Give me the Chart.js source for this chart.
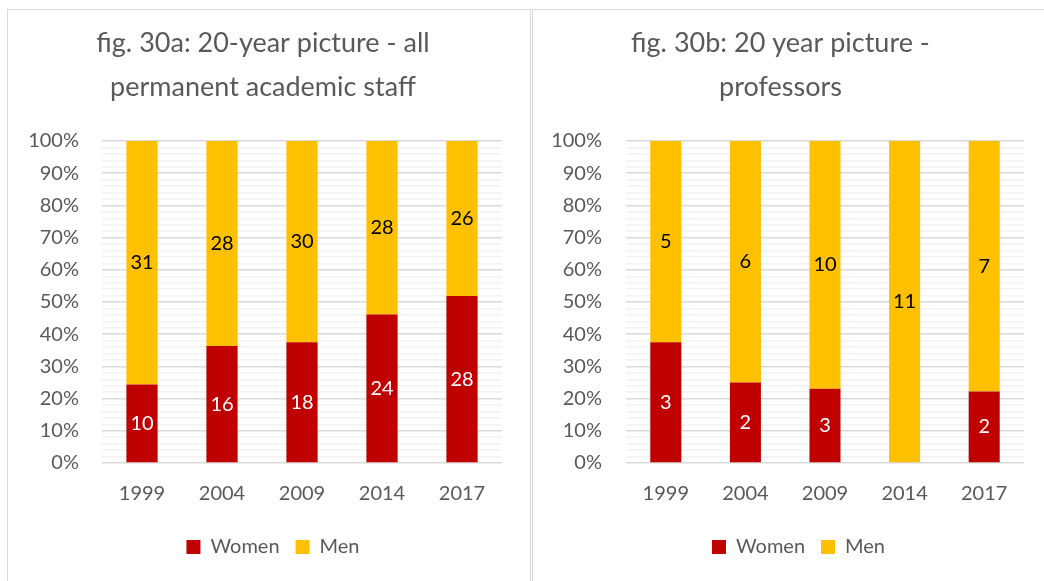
<!DOCTYPE html>
<html>
<head>
<meta charset="utf-8">
<script src="https://cdn.jsdelivr.net/npm/chart.js@4"></script>
<style>
    body { margin: 0; background: #fff; width: 1044px; height: 581px; overflow: hidden; position: relative; }
    .panel { position: absolute; top: 9px; height: 600px; box-sizing: border-box; border: 1px solid #d9d9d9; }
    #p1 { left: 7px; width: 524px; }
    #p2 { left: 532px; width: 600px; }
    canvas { display: block; }
</style>
</head>
<body>
<div class="panel" id="p1"><div style="width:522px;height:571px"><canvas id="chartA"></canvas></div></div>
<div class="panel" id="p2"><div style="width:511px;height:571px"><canvas id="chartB"></canvas></div></div>
<script>
const years = ['1999', '2004', '2009', '2014', '2017'];

// fig. 30a - all permanent academic staff (head counts)
const staffWomen = [10, 16, 18, 24, 28];
const staffMen = [31, 28, 30, 28, 26];

// fig. 30b - professors (head counts)
const profWomen = [3, 2, 3, 0, 2];
const profMen = [5, 6, 10, 11, 7];

const yTicks = [0, 10, 20, 30, 40, 50, 60, 70, 80, 90, 100];

const FONT = 'Lato, "Open Sans", sans-serif';
const TEXT = '#595959';

function pct(part, other) {
    return part.map((v, i) => v / (v + other[i]) * 100);
}

// draws the head counts in the middle of each segment
const countLabels = {
    id: 'countLabels',
    afterDatasetsDraw(chart) {
        const ctx = chart.ctx;
        ctx.save();
        ctx.font = '20px ' + FONT;
        ctx.textAlign = 'center';
        ctx.textBaseline = 'middle';
        chart.data.datasets.forEach((ds, di) => {
            const meta = chart.getDatasetMeta(di);
            meta.data.forEach((bar, i) => {
                const n = ds.counts[i];
                if (!n) return;
                ctx.fillStyle = ds.labelColor;
                ctx.fillText(n, bar.x, (bar.y + bar.base) / 2);
            });
        });
        ctx.restore();
    }
};

// nudge title and legend so they centre on the panel rather than the padded box
function shiftBoxes(titleDx, legendDx) {
    return {
        id: 'shiftBoxes',
        afterLayout(chart) {
            if (chart.titleBlock) {
                chart.titleBlock.left += titleDx;
                chart.titleBlock.right += titleDx;
            }
            if (chart.legend) {
                chart.legend.left += legendDx;
                chart.legend.right += legendDx;
            }
        }
    };
}

function makeChart(id, title, women, men, axisW, tickPad, padRight, titleDx, legendDx) {
    const ctx = document.getElementById(id).getContext('2d');
    return new Chart(ctx, {
        type: 'bar',
        data: {
            labels: years,
            datasets: [{
                label: 'Women',
                data: pct(women, men),
                counts: women,
                labelColor: '#ffffff',
                backgroundColor: '#C00000',
                barPercentage: 0.39,
                categoryPercentage: 1
            }, {
                label: 'Men',
                data: pct(men, women),
                counts: men,
                labelColor: '#000000',
                backgroundColor: '#FFC000',
                barPercentage: 0.39,
                categoryPercentage: 1
            }]
        },
        options: {
            responsive: true,
            maintainAspectRatio: false,
            animation: false,
            layout: { padding: { left: 0, right: padRight, top: 0, bottom: 14 } },
            plugins: {
                title: {
                    display: true,
                    text: title,
                    color: TEXT,
                    font: { family: FONT, size: 27, weight: 'normal', lineHeight: 1.63 },
                    padding: { top: 11, bottom: 32 }
                },
                legend: {
                    position: 'bottom',
                    labels: {
                        color: TEXT,
                        font: { family: FONT, size: 20 },
                        boxWidth: 14,
                        boxHeight: 14,
                        padding: 16
                    }
                },
                tooltip: { enabled: false }
            },
            scales: {
                x: {
                    stacked: true,
                    grid: { display: false },
                    border: { display: false },
                    afterFit(scale) { scale.height = 58; },
                    ticks: { color: TEXT, font: { family: FONT, size: 20 }, padding: 11 }
                },
                y: {
                    stacked: true,
                    min: 0,
                    max: 100,
                    border: { display: false },
                    afterFit(scale) { scale.width = axisW; },
                    grid: {
                        drawTicks: false,
                        color: c => (yTicks.includes(c.tick.value) ? '#d9d9d9' : '#f2f2f2'),
                        lineWidth: 1.5
                    },
                    ticks: {
                        stepSize: 2,
                        autoSkip: false,
                        padding: tickPad,
                        color: TEXT,
                        font: { family: FONT, size: 20 },
                        callback: v => (yTicks.includes(v) ? v + '%' : '')
                    }
                }
            }
        },
        plugins: [countLabels, shiftBoxes(titleDx, legendDx)]
    });
}

makeChart('chartA', ['fig. 30a: 20-year picture - all', 'permanent academic staff'],
    staffWomen, staffMen, 94, 23, 28, 8, 18);
makeChart('chartB', ['fig. 30b: 20 year picture -', 'professors'],
    profWomen, profMen, 93, 24, 20, 2, 20);
</script>
</body>
</html>
